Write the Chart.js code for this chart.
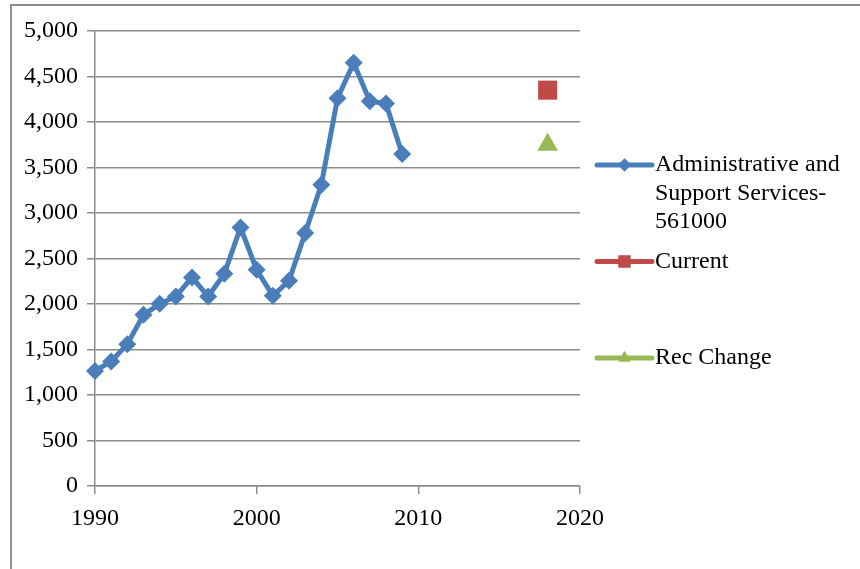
<!DOCTYPE html>
<html>
<head>
<meta charset="utf-8">
<title>Administrative and Support Services-561000</title>
<script src="https://cdn.jsdelivr.net/npm/chart.js@4/dist/chart.umd.min.js"></script>
<style>
  html, body { margin: 0; padding: 0; background: #fff; }
  #wrap { position: relative; width: 860px; height: 569px; overflow: hidden; }
  #frame { position: absolute; left: 10px; top: 4px; width: 900px; height: 600px;
           border-left: 2px solid #8e8e8e; border-top: 2px solid #8e8e8e; }
  #chart { position: absolute; left: 0; top: 0; }
</style>
</head>
<body>
<div id="wrap">
  <div id="frame"></div>
  <canvas id="chart" width="860" height="569"></canvas>
</div>
<script>
// employment history, 1990-2009
const years = [1990, 1991, 1992, 1993, 1994, 1995, 1996, 1997, 1998, 1999,
               2000, 2001, 2002, 2003, 2004, 2005, 2006, 2007, 2008, 2009];
const employment = [1265, 1368, 1559, 1881, 2002, 2083, 2292, 2083, 2332, 2842,
                    2376, 2090, 2255, 2780, 3311, 4261, 4650, 4228, 4202, 3649];

// projection year points
const projectionYear = [2018];
const currentValue = [4350];
const recChangeValue = [3750];

const xTicks = [1990, 2000, 2010, 2020];
const seriesNames = ['Administrative and Support Services-561000', 'Current', 'Rec Change'];

const BLUE = '#4a7ebb';
const RED = '#be4b48';
const GREEN = '#98b954';
const GRID = '#8c8c8c';
const SERIF = '"Liberation Serif", "Times New Roman", serif';
const FONT_SIZE = 24;

const toPoints = (xs, ys) => xs.map((x, i) => ({ x: x, y: ys[i] }));

// Legend drawn at the right side: line + marker, wrapped label text
const sideLegend = {
    id: 'sideLegend',
    afterDraw(chart, args, opts) {
        const ctx = chart.ctx;
        ctx.save();
        ctx.font = opts.fontSize + 'px ' + SERIF;
        ctx.textBaseline = 'middle';
        ctx.textAlign = 'left';
        chart.data.datasets.forEach((ds, i) => {
            const y = opts.top + i * opts.step;
            // line sample
            ctx.strokeStyle = ds.borderColor;
            ctx.lineWidth = 5;
            ctx.lineCap = 'round';
            ctx.beginPath();
            ctx.moveTo(opts.lineX0, y);
            ctx.lineTo(opts.lineX1, y);
            ctx.stroke();
            // marker sample
            ctx.fillStyle = ds.pointBackgroundColor;
            ctx.beginPath();
            const mx = (opts.lineX0 + opts.lineX1) / 2;
            Chart.helpers.drawPoint(ctx, {
                pointStyle: ds.pointStyle, rotation: 0, borderWidth: 0,
                radius: opts.markerRadius[i]
            }, mx, y);
            ctx.fill();

            // wrapped label
            const parts = ds.label.split(/(?<=[ -])/);
            const lines = [];
            let cur = '';
            parts.forEach(p => {
                const test = cur + p;
                if (cur && ctx.measureText(test.trim()).width > opts.maxWidth) {
                    lines.push(cur.trim());
                    cur = p;
                } else {
                    cur = test;
                }
            });
            if (cur) lines.push(cur.trim());
            ctx.fillStyle = '#000';
            lines.forEach((ln, k) => ctx.fillText(ln, opts.textX, y + k * opts.lineHeight));
        });
        ctx.restore();
    }
};

new Chart(document.getElementById('chart'), {
    type: 'scatter',
    data: {
        datasets: [{
            label: seriesNames[0],
            data: toPoints(years, employment),
            showLine: true,
            borderColor: BLUE,
            borderWidth: 5,
            pointStyle: 'rectRot',
            pointRadius: 9,
            pointBackgroundColor: BLUE,
            pointBorderWidth: 0,
            tension: 0,
            clip: false
        }, {
            label: seriesNames[1],
            data: toPoints(projectionYear, currentValue),
            borderColor: RED,
            pointStyle: 'rect',
            pointRadius: 13.5,
            pointBackgroundColor: RED,
            pointBorderWidth: 0,
            clip: false
        }, {
            label: seriesNames[2],
            data: toPoints(projectionYear, recChangeValue),
            borderColor: GREEN,
            pointStyle: 'triangle',
            pointRadius: 12,
            pointBackgroundColor: GREEN,
            pointBorderWidth: 0,
            clip: false
        }]
    },
    options: {
        responsive: false,
        animation: false,
        events: [],
        layout: { padding: { left: 0, top: 31, right: 280, bottom: 0 } },
        plugins: {
            legend: { display: false },
            tooltip: { enabled: false },
            sideLegend: {
                top: 165, step: 96.5, lineX0: 597, lineX1: 652, textX: 655,
                maxWidth: 200, lineHeight: 28.5, fontSize: FONT_SIZE,
                markerRadius: [6.5, 8.5, 7]
            }
        },
        scales: {
            x: {
                type: 'linear',
                min: 1990,
                max: 2020,
                afterFit: s => { s.height = 83; },
                afterBuildTicks: s => { s.ticks = xTicks.map(v => ({ value: v })); },
                grid: { drawOnChartArea: false, drawTicks: true, tickLength: 8, color: GRID, lineWidth: 1.5 },
                border: { display: true, color: GRID, width: 1.5 },
                ticks: {
                    color: '#000',
                    font: { family: SERIF, size: FONT_SIZE },
                    padding: 10,
                    maxRotation: 0,
                    callback: v => String(v)
                }
            },
            y: {
                min: 0,
                max: 5000,
                afterFit: s => { s.width = 95; },
                grid: { color: GRID, lineWidth: 1.5, drawTicks: true, tickLength: 8 },
                border: { display: true, color: GRID, width: 1.5 },
                ticks: {
                    stepSize: 500,
                    color: '#000',
                    font: { family: SERIF, size: FONT_SIZE },
                    padding: 9,
                    callback: v => v.toLocaleString('en-US')
                }
            }
        }
    },
    plugins: [sideLegend]
});
</script>
</body>
</html>
